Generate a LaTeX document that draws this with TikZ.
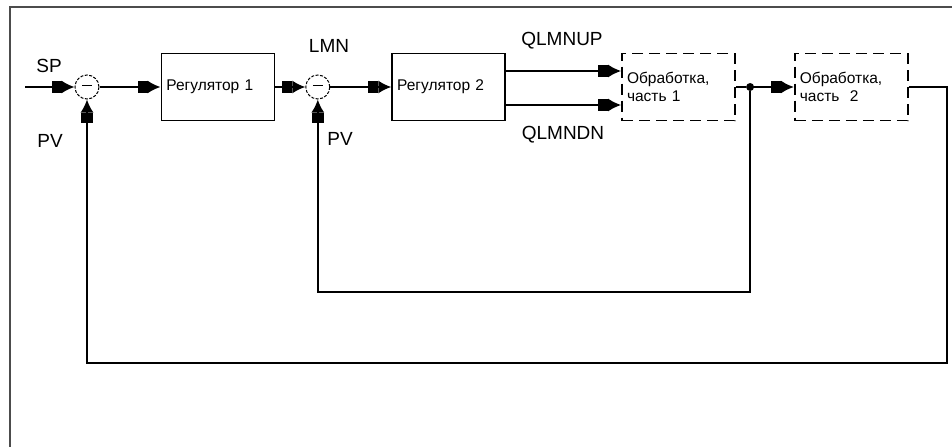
\documentclass[tikz,border=0pt]{standalone}
\usepackage{fontspec}
\setmainfont{Liberation Sans}
\usetikzlibrary{positioning,arrows.meta}

\begin{document}
\begin{tikzpicture}[x=1pt, y=-1pt, node distance=20pt, >=Latex, every node/.style={font=\fontsize{15.5}{17.5}\selectfont}]
  % Styles
  \tikzset{
    sumnode/.style={draw, dashed, circle, line width=1pt, minimum size=24pt, inner sep=0pt, dash pattern=on 3pt off 1.5pt},
    regbox/.style={draw, line width=1.8pt, minimum height=67pt, text width=103pt, inner sep=5pt, align=left},
    procbox/.style={regbox, dashed, dash pattern=on 11pt off 6pt},
    lbl/.style={font=\fontsize{19}{22}\selectfont},
    dot/.style={circle, fill, inner sep=0pt, minimum size=8pt},
    arrow/.style={-{Rectangle[length=10pt,width=12pt]Latex[length=13pt,width=13pt]}, line width=1.8pt},
    wire/.style={line width=1.8pt}
  }

  \useasboundingbox (0,0) rectangle (952,447);

  % Frame (clipped at right and bottom)
  \draw[black!70, line width=2.4pt] (952,7) -- (10,7) -- (10,447);

  % Nodes
  \node[sumnode] (sum1) at (87,87) {\rule[3pt]{10pt}{1.2pt}};
  \node[regbox, right=61pt of sum1] (reg1) {Регулятор 1};
  \node[sumnode, right=30pt of reg1] (sum2) {\rule[3pt]{10pt}{1.2pt}};
  \node[regbox, right=61pt of sum2] (reg2) {Регулятор 2};
  \node[procbox, right=115pt of reg2] (proc1) {Обработка,\\часть 1};
  \node[procbox, right=58pt of proc1] (proc2) {Обработка,\\часть~ 2};
  \node[dot, right=10pt of proc1.east] (split) {};

  \coordinate (sp) at (25,87);
  \coordinate[right=38pt of proc2.east] (out);
  \coordinate (bot1) at (0,363);
  \coordinate (bot2) at (0,292);

  % Labels
  \node[lbl] at (49,66) {SP};
  \node[lbl] at (50,141) {PV};
  \node[lbl] at (329,46) {LMN};
  \node[lbl] at (340,139) {PV};
  \node[lbl] at (562,41) {QLMNUP};
  \node[lbl] at (563,135) {QLMNDN};

  % Forward path
  \draw[arrow] (sp) -- (sum1);
  \draw[arrow] (sum1) -- (reg1);
  \draw[arrow] (reg1) -- (sum2);
  \draw[arrow] (sum2) -- (reg2);
  \draw[arrow] ([yshift=16pt]reg2.east) -- ([yshift=16pt]proc1.west);
  \draw[arrow] ([yshift=-18pt]reg2.east) -- ([yshift=-18pt]proc1.west);
  \draw[wire] (proc1.east) -- (split);
  \draw[arrow] (split) -- (proc2);

  % Feedback loops
  \draw[arrow] (proc2.east) -- (out) -- (out |- bot1) -| (sum1.south);
  \draw[arrow] (split) -- (split |- bot2) -| (sum2.south);
\end{tikzpicture}
\end{document}
